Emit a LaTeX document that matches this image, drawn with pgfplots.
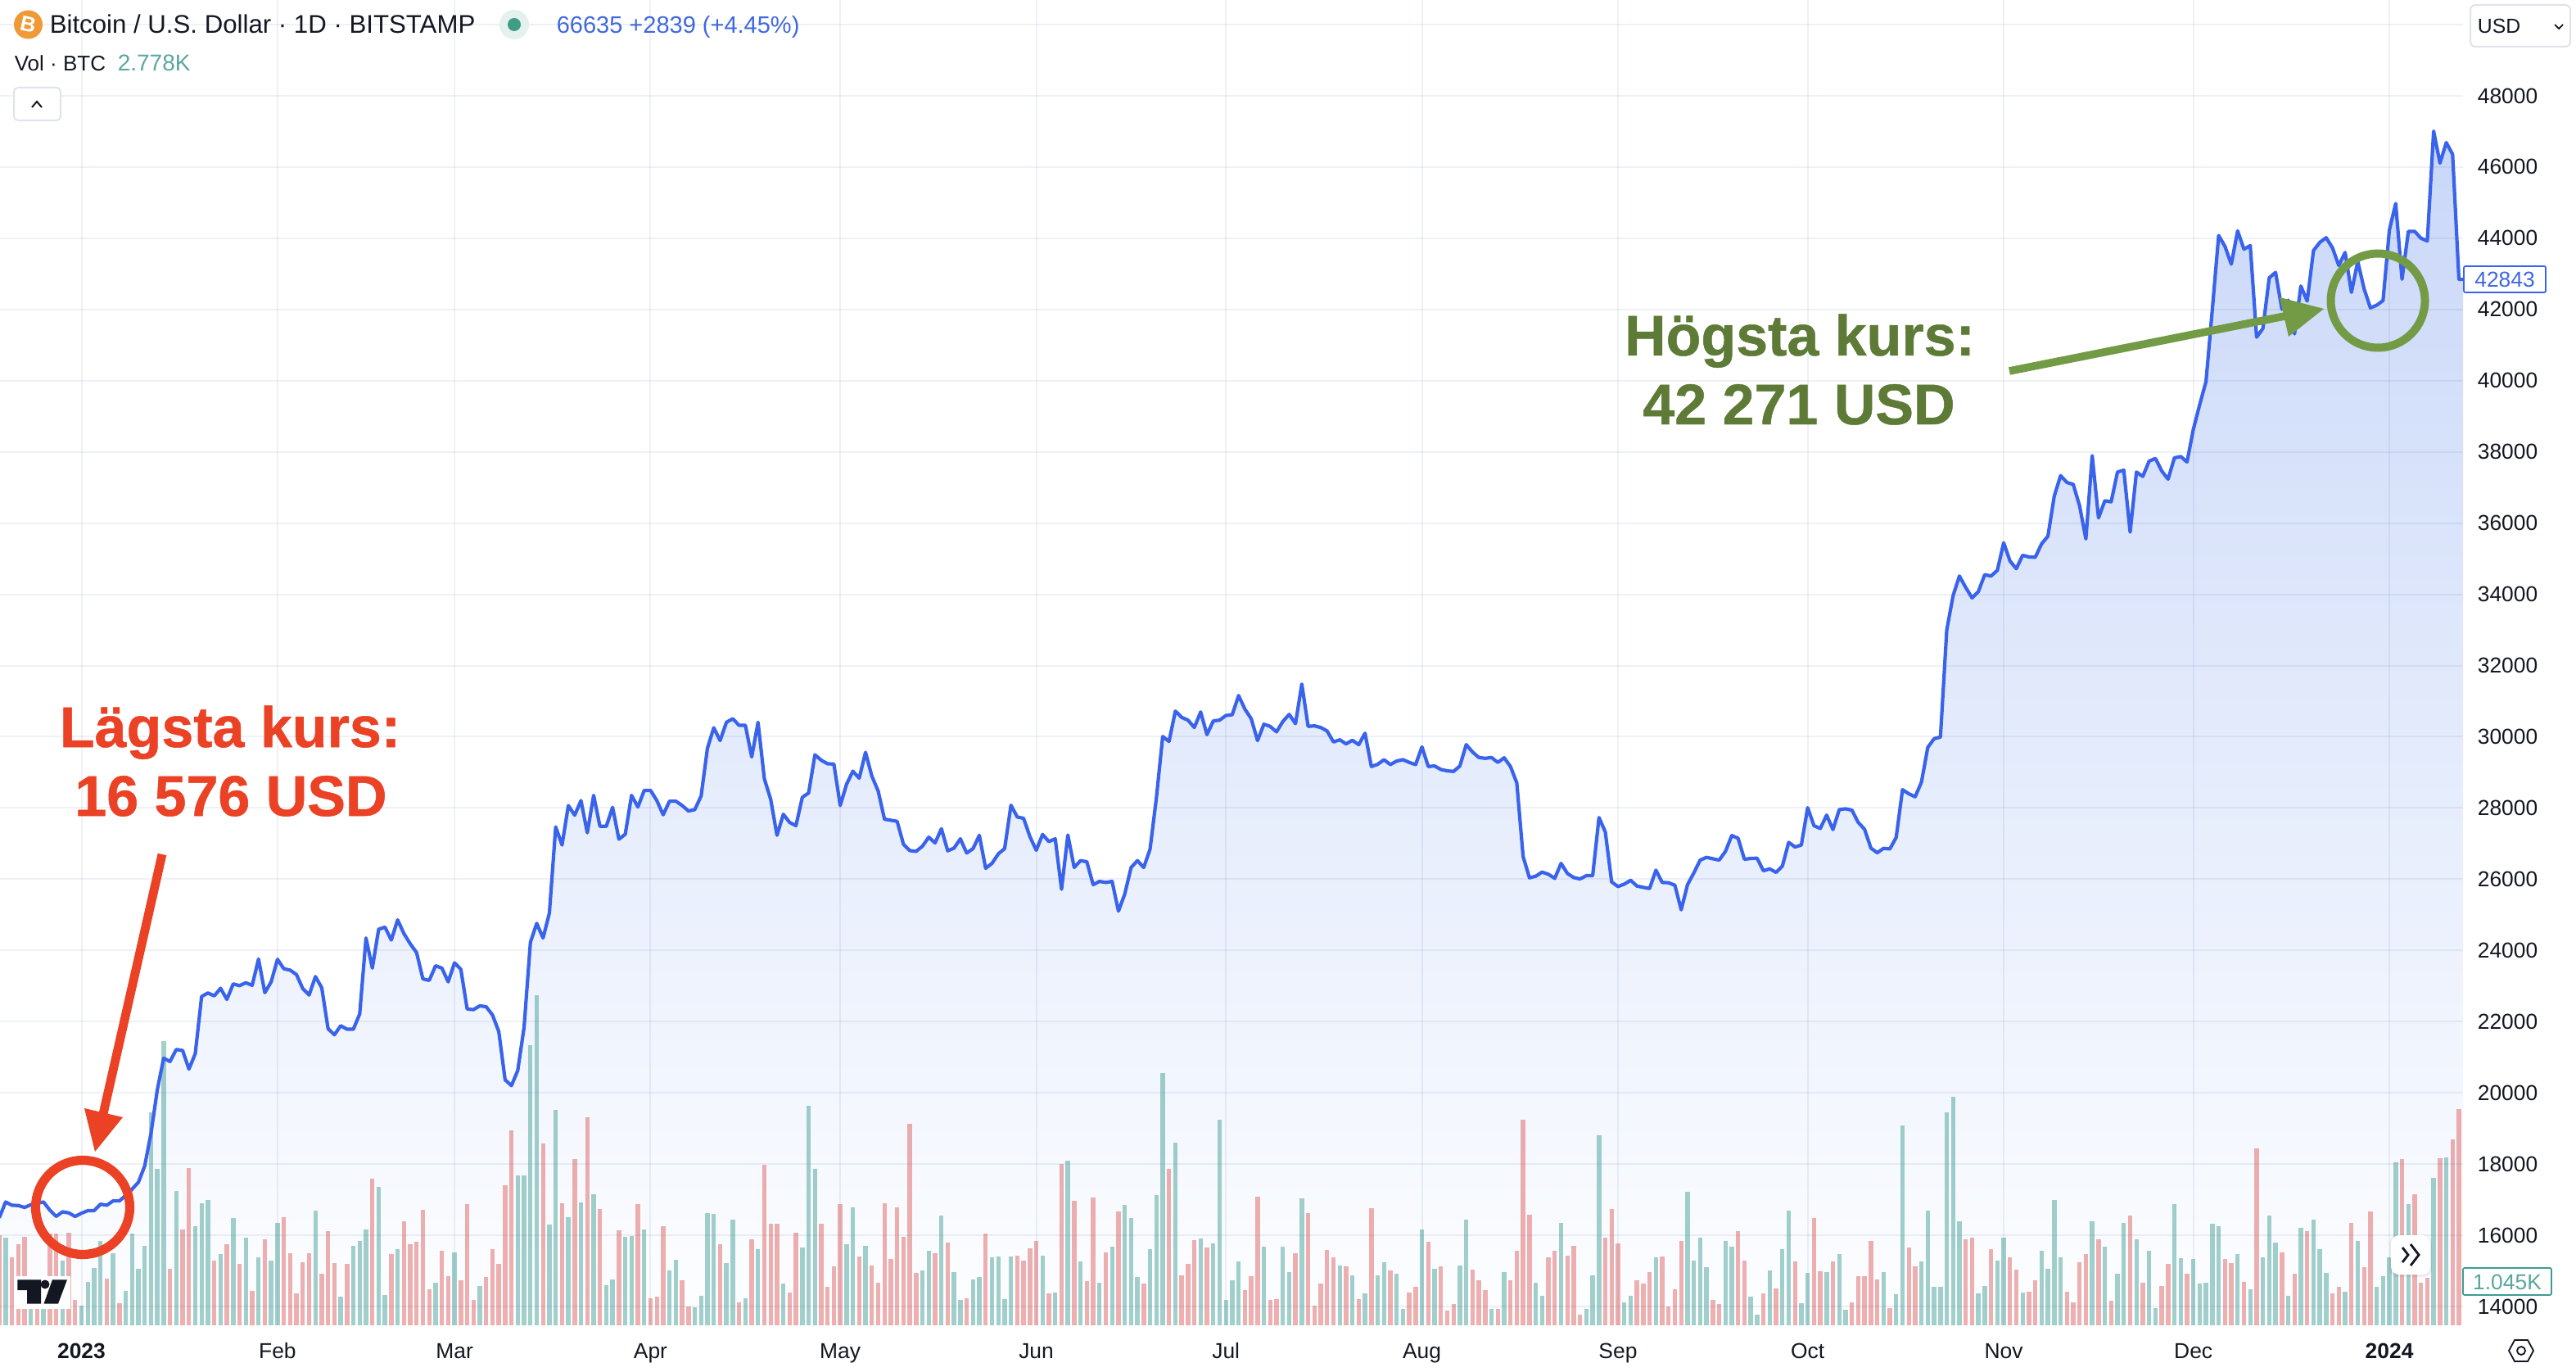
\documentclass[border=0pt]{standalone}
\usepackage{fontspec}
\setmainfont{Liberation Sans}
\newfontfamily\annfont[UprightFont=* Bold,FakeBold=0.7]{Liberation Sans}
\usepackage{pgfplots}
\usepackage{pgfplotstable}
\pgfplotsset{compat=1.18}
\definecolor{ink}{HTML}{131722}
\definecolor{pblue}{HTML}{3A63EC}
\definecolor{txtblue}{HTML}{3F68DF}
\definecolor{tealbar}{HTML}{3E9C93}
\definecolor{redbar}{HTML}{DE5A58}
\definecolor{tealtxt}{HTML}{5AA79B}
\definecolor{gridc}{HTML}{4060A0}
\definecolor{uiline}{HTML}{E0E3EB}
\definecolor{annred}{HTML}{EB4125}
\definecolor{anngreen}{HTML}{739B45}
\definecolor{anntext}{HTML}{5D7B36}
\definecolor{btc}{HTML}{F09A37}
\definecolor{areatop}{HTML}{C9D7F8}
\definecolor{areabot}{HTML}{FDFEFF}
\definecolor{halo}{HTML}{E4F1EE}
\definecolor{dotc}{HTML}{3F9C85}
\pgfplotstableread[row sep=\\]{
x y\\
-13 16490\\ -12 16935\\ -11 16843\\ -10 16835\\ -9 16782\\ -8 16858\\ -7 16900\\ -6 16935\\ -5 16705\\ -4 16529\\ -3 16659\\ -2 16628\\ -1 16529\\
0 16620\\ 1 16690\\ 2 16690\\ 3 16873\\ 4 16843\\ 5 16965\\ 6 16965\\ 7 17119\\ 8 17295\\ 9 17487\\ 10 17946\\ 11 18866\\ 12 20092\\ 13 20973\\ 14 20881\\ 15 21218\\ 16 21188\\ 17 20667\\ 18 21103\\
19 22706\\ 20 22805\\ 21 22723\\ 22 22936\\ 23 22624\\ 24 23059\\ 25 23010\\ 26 23092\\ 27 23018\\ 28 23757\\ 29 22813\\ 30 23117\\ 31 23749\\ 32 23486\\ 33 23445\\ 34 23322\\ 35 22928\\ 36 22747\\ 37 23265\\ 38 22953\\ 39 21803\\ 40 21631\\ 41 21885\\ 42 21787\\ 43 21787\\ 44 22214\\ 45 24348\\ 46 23503\\ 47 24595\\ 48 24652\\ 49 24291\\ 50 24857\\ 51 24471\\ 52 24184\\ 53 23938\\ 54 23199\\ 55 23158\\ 56 23569\\ 57 23503\\ 58 23117\\ 59 23650\\ 60 23470\\ 61 22353\\ 62 22337\\ 63 22443\\ 64 22419\\ 65 22189\\ 66 21721\\ 67 20367\\ 68 20203\\ 69 20629\\ 70 21844\\ 71 24225\\ 72 24759\\ 73 24348\\ 74 25046\\ 75 27468\\ 76 26959\\ 77 28067\\ 78 27797\\ 79 28207\\ 80 27304\\ 81 28355\\ 82 27485\\ 83 27485\\ 84 28018\\ 85 27123\\ 86 27263\\ 87 28355\\ 88 28026\\ 89 28494\\ 90 28494\\
91 28207\\ 92 27808\\ 93 28191\\ 94 28191\\ 95 28069\\ 96 27915\\ 97 27954\\ 98 28337\\ 99 29678\\ 100 30253\\ 101 29892\\ 102 30406\\ 103 30506\\ 104 30322\\ 105 30322\\ 106 29433\\ 107 30406\\ 108 28820\\ 109 28245\\ 110 27233\\ 111 27823\\ 112 27594\\ 113 27502\\ 114 28299\\ 115 28421\\ 116 29494\\ 117 29341\\ 118 29241\\ 119 29233\\ 120 28069\\ 121 28666\\ 122 29034\\ 123 28835\\ 124 29563\\ 125 28896\\ 126 28475\\ 127 27686\\ 128 27655\\ 129 27624\\ 130 26981\\ 131 26804\\ 132 26781\\ 133 26927\\ 134 27180\\ 135 27019\\ 136 27417\\ 137 26797\\ 138 26873\\ 139 27134\\ 140 26735\\ 141 26858\\ 142 27233\\ 143 26306\\ 144 26444\\ 145 26712\\ 146 26858\\ 147 28076\\ 148 27747\\ 149 27709\\ 150 27195\\ 151 26812\\ 152 27256\\ 153 27057\\ 154 27134\\ 155 25716\\ 156 27241\\ 157 26329\\ 158 26521\\ 159 26490\\ 160 25846\\ 161 25938\\ 162 25908\\ 163 25938\\ 164 25103\\ 165 25586\\ 166 26329\\ 167 26521\\ 168 26329\\ 169 26843\\ 170 28283\\ 171 30007\\ 172 29869\\ 173 30720\\ 174 30544\\ 175 30467\\ 176 30260\\ 177 30697\\ 178 30061\\ 179 30444\\ 180 30467\\ 181 30597\\ 182 30620\\ 183 31157\\ 184 30774\\ 185 30506\\ 186 29892\\ 187 30352\\ 188 30291\\ 189 30138\\ 190 30429\\ 191 30628\\ 192 30368\\ 193 31479\\ 194 30291\\
195 30306\\ 196 30260\\ 197 30161\\ 198 29854\\ 199 29915\\ 200 29801\\ 201 29900\\ 202 29778\\ 203 30099\\ 204 29164\\ 205 29226\\ 206 29356\\ 207 29218\\ 208 29318\\ 209 29356\\ 210 29279\\ 211 29218\\ 212 29716\\ 213 29164\\ 214 29180\\ 215 29080\\ 216 29042\\ 217 29027\\ 218 29180\\ 219 29778\\ 220 29571\\ 221 29417\\ 222 29394\\ 223 29417\\ 224 29279\\ 225 29410\\ 226 29164\\ 227 28705\\ 228 26636\\ 229 26038\\ 230 26084\\ 231 26199\\ 232 26138\\ 233 26023\\ 234 26444\\ 235 26161\\ 236 26046\\ 237 26007\\ 238 26099\\ 239 26099\\ 240 27732\\ 241 27325\\ 242 25923\\ 243 25793\\ 244 25862\\ 245 25969\\ 246 25808\\ 247 25770\\ 248 25739\\ 249 26253\\ 250 25908\\ 251 25900\\ 252 25831\\ 253 25141\\ 254 25846\\ 255 26176\\ 256 26536\\ 257 26613\\ 258 26574\\ 259 26536\\ 260 26781\\ 261 27226\\ 262 27149\\ 263 26559\\ 264 26582\\ 265 26590\\ 266 26237\\ 267 26291\\ 268 26191\\ 269 26367\\ 270 27034\\ 271 26904\\ 272 26958\\ 273 28007\\ 274 27502\\ 275 27425\\ 276 27800\\ 277 27394\\ 278 27954\\ 279 27977\\ 280 27938\\ 281 27594\\ 282 27402\\ 283 26873\\ 284 26743\\ 285 26866\\ 286 26850\\ 287 27172\\ 288 28513\\ 289 28398\\ 290 28314\\ 291 28728\\ 292 29701\\ 293 29946\\ 294 29992\\
295 33000\\ 296 33962\\ 297 34513\\ 298 34192\\ 299 33900\\ 300 34077\\ 301 34552\\ 302 34513\\ 303 34674\\ 304 35448\\ 305 34935\\ 306 34720\\ 307 35096\\ 308 35050\\ 309 35042\\ 310 35418\\ 311 35632\\ 312 36759\\ 313 37333\\ 314 37142\\ 315 37088\\ 316 36490\\ 317 35556\\ 318 37893\\ 319 36146\\ 320 36628\\ 321 36598\\ 322 37433\\ 323 37487\\ 324 35747\\ 325 37433\\ 326 37310\\ 327 37740\\ 328 37816\\ 329 37464\\ 330 37234\\ 331 37832\\ 332 37870\\ 333 37717\\ 334 38636\\ 335 39326\\ 336 39977\\
337 42000\\ 338 44077\\ 339 43770\\ 340 43271\\ 341 44207\\ 342 43693\\ 343 43793\\ 344 41222\\ 345 41467\\ 346 42887\\ 347 43041\\ 348 42005\\ 349 42260\\ 350 41314\\ 351 42657\\ 352 42235\\ 353 43655\\ 354 43885\\ 355 44015\\ 356 43731\\ 357 43233\\ 358 43600\\ 359 42480\\ 360 43348\\ 361 42580\\ 362 42043\\ 363 42120\\ 364 42250\\ 365 44230\\ 366 44975\\ 367 42849\\ 368 44192\\ 369 44192\\ 370 44000\\ 371 43923\\ 372 47008\\ 373 46110\\ 374 46686\\ 375 46356\\ 376 42843\\ 377 42843\\
}\pricedata
\pgfplotsset{base/.style={scale only axis,width=752pt,height=404.5pt,xmin=-12.885,xmax=376.65,at={(0pt,14pt)},anchor=south west}}
\begin{document}
\begin{tikzpicture}
\path[use as bounding box] (0,0) rectangle (786.5pt,418.5pt);
% price area
\begin{axis}[base,ymin=13471,ymax=50691,hide axis]
\addplot[draw=none,top color=areatop,bottom color=areabot] table[x=x,y=y]{\pricedata} \closedcycle;
\end{axis}
% volume bars
\begin{axis}[base,ymin=0,ymax=31551,hide axis]
\addplot[ycomb,no marks,line width=1.35pt,tealbar,opacity=.48,line cap=butt] coordinates {
(-12,2080)(-8,455)(-6,455)(-3,1541)(0,475)(1,1040)(2,1365)(3,2015)(5,1723)(7,813)(8,2191)(9,1352)(10,1885)(11,5070)(12,3725)(13,6767)(15,3205)(18,2360)(19,2912)(20,2990)(22,1690)(24,2555)(26,2080)(28,1625)(30,1541)(31,2438)(37,2730)(41,683)(43,1898)(44,2015)(45,2288)(47,3302)(48,728)(50,1820)(56,1021)(59,1736)(63,943)(69,3562)(70,3562)(71,6663)(72,7865)(74,2405)(75,5122)(77,2581)(79,2925)(81,3120)(83,956)(84,1099)(86,2113)(87,2132)(89,2288)
(93,1300)(94,1560)(97,423)(98,702)(99,2678)(100,2659)(102,1482)(103,2522)(105,650)(107,1820)(111,995)(114,1853)(115,5233)(116,3718)(121,1931)(122,2815)(124,1898)(133,1300)(134,1775)(136,2620)(138,1268)(139,611)(141,1092)(142,1151)(144,1625)(145,1645)(146,631)(147,1645)(152,1658)(154,780)(156,3920)(158,1528)(161,1021)(163,1872)(165,2873)(166,2555)(167,1151)(169,1820)(170,3101)(171,6000)(173,4342)(177,2067)(179,1950)(180,4888)(181,605)(182,1073)(183,1528)(187,1879)(190,1879)(191,1268)(193,3023)
(199,1430)(201,1196)(203,761)(205,1196)(206,1508)(208,1235)(209,397)(212,2288)(214,1352)(218,1430)(219,2522)(223,390)(225,1274)(230,1021)(231,709)(234,2444)(238,397)(239,1196)(240,4531)(244,553)(245,709)(249,1625)(254,3185)(255,1547)(256,2080)(257,1378)(260,2002)(261,1879)(264,683)(265,260)(267,1313)(269,1820)(270,2730)(272,533)(273,1255)(276,1274)(278,1703)(279,371)(285,1274)(287,748)(288,4765)(291,1528)(292,2730)(293,923)(294,923)(295,5077)(296,5447)(297,2483)
(300,761)(301,943)(303,1547)(304,2080)(307,787)(310,1775)(311,1352)(312,2990)(313,1625)(318,2470)(320,1879)(322,1235)(323,2444)(325,2054)(327,1775)(328,416)(331,2893)(332,1593)(334,1573)(335,1001)(336,1021)(337,2418)(338,2366)(341,1703)(343,865)(345,1625)(346,2620)(347,1976)(349,709)(351,2321)(353,2522)(354,1820)(355,1255)(358,806)(360,2015)(363,923)(364,1177)(365,1625)(366,3887)(368,2893)(372,3517)(374,4004)
};
\addplot[ycomb,no marks,line width=1.35pt,redbar,opacity=.48,line cap=butt] coordinates {
(-13,2145)(-11,1625)(-10,1931)(-9,2113)(-7,423)(-5,2178)(-4,2191)(-2,2210)(-1,605)(4,1118)(6,533)(14,1352)(16,2288)(17,3751)(21,1541)(23,1931)(25,1463)(27,826)(29,2048)(32,2581)(33,1723)(34,761)(35,1508)(36,1723)(38,1235)(39,2243)(40,1482)(42,1463)(46,3491)(49,1703)(51,2470)(52,1937)(53,1983)(54,2750)(55,865)(57,1775)(58,1170)(60,1073)(61,2893)(62,605)(64,1151)(65,1820)(66,1463)(67,3335)(68,4648)(73,4323)(76,2912)(78,3952)(80,4960)(82,2763)(85,2262)(88,2893)(90,650)(91,683)(92,2360)
(95,1073)(96,455)(101,1931)(104,553)(106,2048)(108,3829)(109,2425)(110,2425)(112,780)(113,2210)(117,2425)(118,923)(119,1411)(120,2893)(123,1645)(125,1430)(126,1021)(127,2912)(128,1573)(129,2815)(130,2113)(131,4791)(132,1255)(135,1723)(137,1970)(140,650)(143,2191)(148,1658)(149,1547)(150,1840)(151,2002)(153,761)(155,3835)(157,2971)(159,1060)(160,3042)(162,1736)(164,2711)(168,995)(172,3725)(174,1190)(175,1463)(176,2028)(178,1853)(184,845)(185,1170)(186,3068)(188,605)(189,631)(192,1723)(194,2665)
(195,475)(196,995)(197,1801)(198,1625)(200,1411)(202,631)(204,2789)(207,1313)(210,787)(211,910)(213,1983)(215,1411)(216,345)(217,501)(220,1333)(221,1079)(222,845)(224,390)(226,1079)(227,1775)(228,4895)(229,2633)(232,1619)(233,1775)(235,1664)(236,1898)(237,260)(241,2080)(242,2776)(243,1957)(246,1079)(247,995)(248,1274)(250,1645)(251,449)(252,865)(253,2002)(258,605)(259,514)(262,2249)(263,1547)(266,767)(268,884)(271,1528)(274,2555)(275,1294)(277,1528)(280,553)(281,1177)(282,1177)(283,2002)(284,1099)(286,416)(289,1853)(290,1411)
(298,2048)(299,2080)(302,1820)(305,1625)(306,1333)(308,806)(309,1066)(314,806)(315,553)(316,1508)(317,1703)(319,2048)(321,592)(324,2620)(326,1021)(329,943)(330,1463)(333,1235)(339,1586)(340,1489)(342,1040)(344,4219)(348,1742)(350,1235)(352,2249)(356,767)(357,923)(359,2444)(361,1391)(362,2717)(367,3965)(369,3127)(370,1008)(371,1138)(373,3985)(375,4433)(376,5155)
};
\end{axis}
% grid, ticks and price line
\begin{axis}[base,ymin=13471,ymax=50691,
  axis line style={draw=none},major tick length=0pt,
  tick style={draw=none},
  grid=major,grid style={gridc,opacity=.09,line width=.5pt},
  xtick pos=bottom,ytick pos=right,
  xtick={0,31,59,90,120,151,181,212,243,273,304,334,365},
  xticklabels={\textbf{2023},Feb,Mar,Apr,May,Jun,Jul,Aug,Sep,Oct,Nov,Dec,\textbf{2024}},
  ytick={14000,16000,18000,20000,22000,24000,26000,28000,30000,32000,34000,36000,38000,40000,42000,44000,46000,48000},
  extra y ticks={50000},extra y tick labels={},
  /pgf/number format/1000 sep={},/pgf/number format/assume math mode=true,
  scaled y ticks=false,
  tick label style={font=\fontsize{6.6}{7.5}\selectfont,text=ink},
  xticklabel style={anchor=base,yshift=-10pt,inner sep=0pt},
  yticklabel style={anchor=west,inner sep=0pt,xshift=4.25pt},
]
\addplot[pblue,line width=1.05pt,no marks,line join=round] table[x=x,y=y]{\pricedata};
\end{axis}
% overlay in picture pixels
\begin{scope}[x=0.25pt,y=-0.25pt,yshift=418.5pt]
% top legend
\fill[btc] (34.5,30) circle (17.5);
\node[text=white,font=\bfseries\fontsize{6.5}{7}\selectfont,rotate=-12] at (34.5,30) {B};
\node[anchor=base west,inner sep=0pt,text=ink,font=\fontsize{7.8}{8}\selectfont] at (60,41) {Bitcoin / U.S. Dollar · 1D · BITSTAMP};
\fill[halo] (628,30) circle (18);
\fill[dotc] (628,30) circle (8);
\node[anchor=base west,inner sep=0pt,text=txtblue,font=\fontsize{7.25}{8}\selectfont] at (679,41) {66635 +2839 (+4.45\%)};
\node[anchor=base west,inner sep=0pt,text=ink,font=\fontsize{6.5}{7}\selectfont] at (17,87) {Vol · BTC};
\node[anchor=base west,inner sep=0pt,text=tealtxt,font=\fontsize{7}{7}\selectfont] at (143,87) {2.778K};
% collapse button
\draw[uiline,line width=.5pt,fill=white,rounded corners=1.2pt] (17,107) rectangle (74,147);
\draw[ink,line width=.5pt] (39,131) -- (45,124) -- (51,131);
% USD select
\draw[uiline,line width=.5pt,fill=white,rounded corners=1.5pt] (3017,6) rectangle (3139,57);
\node[anchor=base west,inner sep=0pt,text=ink,font=\fontsize{6.2}{7}\selectfont] at (3025,41) {USD};
\draw[ink,line width=.45pt] (3120,30) -- (3125,35) -- (3130,30);
% price and volume labels
\draw[pblue,line width=.45pt,fill=white,rounded corners=.5pt] (3009,325) rectangle (3109,357);
\node[text=txtblue,inner sep=0pt,font=\fontsize{6.6}{7.5}\selectfont] at (3059,341) {42843};
\draw[tealbar,line width=.45pt,fill=white,rounded corners=.5pt] (3008,1548) rectangle (3116,1581);
\node[text=tealtxt,inner sep=0pt,font=\fontsize{6.6}{7.5}\selectfont] at (3062,1565) {1.045K};
% scroll button
\fill[black,opacity=.06,rounded corners=2.5pt] (2918,1508) rectangle (2970,1559);
\fill[white,rounded corners=2.5pt] (2920,1508) rectangle (2968,1556);
\draw[ink,line width=.7pt] (2934,1523) -- (2941,1532) -- (2934,1541);
\draw[ink,line width=.7pt] (2944,1519) -- (2954,1532) -- (2944,1545);
% TradingView logo
\fill[white] (18,1558) rectangle (86,1598);
\fill[ink] (21.4,1562.3) -- (50,1562.3) -- (50,1591.7) -- (33.2,1591.7) -- (33.2,1575) -- (21.4,1575) -- cycle;
\fill[ink] (55,1568) circle (5.5);
\fill[ink] (64,1562.3) -- (82,1562.3) -- (71,1591.7) -- (53.5,1591.7) -- cycle;
% settings icon
\draw[ink,line width=.45pt] (3064,1649) -- (3071,1636) -- (3087,1636) -- (3094,1649) -- (3087,1662) -- (3071,1662) -- cycle;
\draw[ink,line width=.45pt] (3079,1649) circle (5);
% red annotation
\node[text=annred,font=\annfont\fontsize{17.5}{20}\selectfont,inner sep=0pt,anchor=base] at (281,912) {Lägsta kurs:};
\node[text=annred,font=\annfont\fontsize{17.5}{20}\selectfont,inner sep=0pt,anchor=base] at (282,996) {16 576 USD};
\draw[annred,line width=2.8pt] (101,1474) circle (57.5);
\draw[annred,line width=2.7pt] (198,1043) -- (126,1360);
\fill[annred] (103,1353) -- (150,1364) -- (116,1406) -- cycle;
% green annotation
\node[text=anntext,font=\annfont\fontsize{17.5}{20}\selectfont,inner sep=0pt,anchor=base] at (2198,434) {Högsta kurs:};
\node[text=anntext,font=\annfont\fontsize{17.5}{20}\selectfont,inner sep=0pt,anchor=base] at (2197,518) {42 271 USD};
\draw[anngreen,line width=2.5pt] (2904,367) circle (57.5);
\draw[anngreen,line width=2.4pt] (2454,453) -- (2790,386);
\fill[anngreen] (2784,363) -- (2795,411) -- (2838,377) -- cycle;
\end{scope}
\end{tikzpicture}
\end{document}
